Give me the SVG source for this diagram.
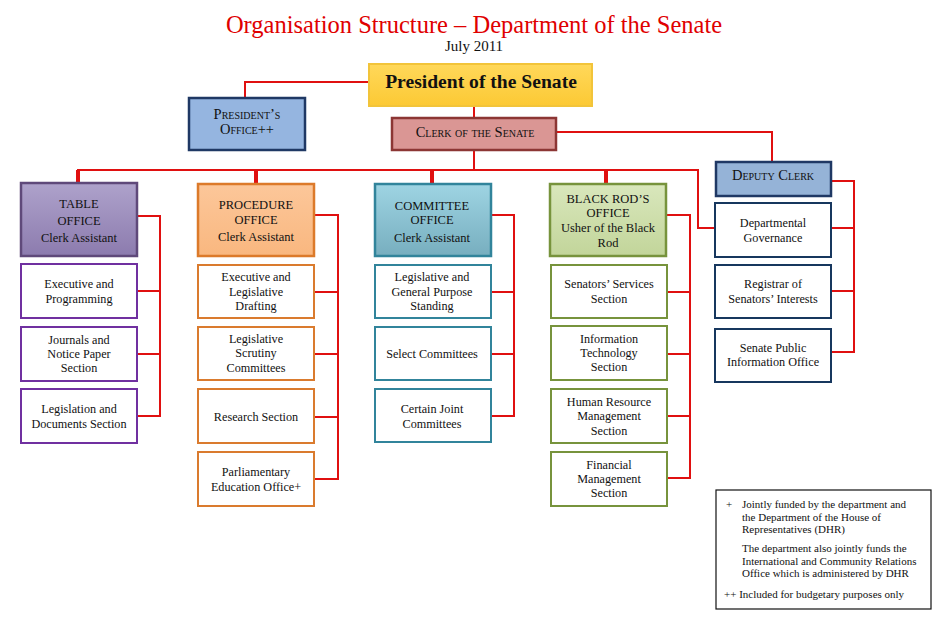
<svg xmlns="http://www.w3.org/2000/svg" width="952" height="623" viewBox="0 0 952 623">
<defs>
<linearGradient id="gPurple" x1="0" y1="0" x2="0" y2="1"><stop offset="0" stop-color="#AEA2CB"/><stop offset="1" stop-color="#8C7BAE"/></linearGradient>
<linearGradient id="gOrange" x1="0" y1="0" x2="0" y2="1"><stop offset="0" stop-color="#FCC79A"/><stop offset="1" stop-color="#F9B77F"/></linearGradient>
<linearGradient id="gTeal" x1="0" y1="0" x2="0" y2="1"><stop offset="0" stop-color="#9ED4E3"/><stop offset="1" stop-color="#77AEBF"/></linearGradient>
<linearGradient id="gGreen" x1="0" y1="0" x2="0" y2="1"><stop offset="0" stop-color="#D9E7BC"/><stop offset="1" stop-color="#C2D59A"/></linearGradient>
<linearGradient id="gGold" x1="0" y1="0" x2="0" y2="1"><stop offset="0" stop-color="#FFD85A"/><stop offset="1" stop-color="#FCC934"/></linearGradient>
</defs>
<style>
text{font-family:"Liberation Serif","Times New Roman",serif;fill:#111;text-anchor:middle}
.t{font-size:12.2px}
.h{font-size:12.5px}
.sc{font-variant:small-caps;font-size:14.5px}
.lg{font-size:11px;text-anchor:start}
.ln{fill:none;stroke:#E01010;stroke-width:2}
.thk{fill:none;stroke:#E01010;stroke-width:4}
.pu{fill:#fff;stroke:#7030A0;stroke-width:2}
.or{fill:#fff;stroke:#DA7B2E;stroke-width:2}
.te{fill:#fff;stroke:#31849B;stroke-width:2}
.gr{fill:#fff;stroke:#77933C;stroke-width:2}
.nv{fill:#fff;stroke:#17375E;stroke-width:2}
</style>
<rect width="952" height="623" fill="#fff"/>
<text x="474" y="33" style="font-size:24.5px;fill:#E00000">Organisation Structure – Department of the Senate</text>
<text x="474" y="51" style="font-size:15px">July 2011</text>

<g id="connectors">
<polyline class="ln" points="369,82 245,82 245,98"/>
<line class="ln" x1="474" y1="106" x2="474" y2="118"/>
<polyline class="ln" points="556,132 772,132 772,162"/>
<line class="ln" x1="474" y1="150" x2="474" y2="170"/>
<polyline class="ln" points="77,170 698,170 698,228 715,228"/>
<line class="thk" x1="78" y1="170" x2="78" y2="183"/>
<line class="thk" x1="256" y1="170" x2="256" y2="184"/>
<line class="thk" x1="432" y1="170" x2="432" y2="184"/>
<line class="thk" x1="606" y1="170" x2="606" y2="184"/>
<polyline class="ln" points="137,216 160,216 160,416 137,416"/>
<line class="ln" x1="137" y1="291" x2="160" y2="291"/>
<line class="ln" x1="137" y1="354" x2="160" y2="354"/>
<polyline class="ln" points="314,215 338,215 338,479 314,479"/>
<line class="ln" x1="314" y1="292" x2="338" y2="292"/>
<line class="ln" x1="314" y1="354" x2="338" y2="354"/>
<line class="ln" x1="314" y1="417" x2="338" y2="417"/>
<polyline class="ln" points="491,215 514,215 514,416 491,416"/>
<line class="ln" x1="491" y1="292" x2="514" y2="292"/>
<line class="ln" x1="491" y1="354" x2="514" y2="354"/>
<polyline class="ln" points="666,215 690,215 690,478 667,478"/>
<line class="ln" x1="667" y1="292" x2="690" y2="292"/>
<line class="ln" x1="667" y1="354" x2="690" y2="354"/>
<line class="ln" x1="667" y1="416" x2="690" y2="416"/>
<polyline class="ln" points="831,181 854,181 854,352 831,352"/>
<line class="ln" x1="831" y1="228" x2="854" y2="228"/>
<line class="ln" x1="831" y1="291" x2="854" y2="291"/>
</g>

<g id="president">
<rect x="369" y="64" width="223" height="42" fill="url(#gGold)" stroke="#F2C43A" stroke-width="2"/>
<text x="481" y="88" style="font-size:19.6px;font-weight:bold">President of the Senate</text>
</g>
<g id="presidents-office">
<rect x="189" y="98" width="116" height="52" fill="#95B5E0" stroke="#1F3864" stroke-width="2.5"/>
<text x="247" y="119" class="sc">President’s</text>
<text x="247" y="134" class="sc">Office++</text>
</g>
<g id="clerk">
<rect x="392" y="118" width="164" height="32" fill="#DA9694" stroke="#8C3634" stroke-width="2.5"/>
<text x="475" y="137" class="sc">Clerk of the Senate</text>
</g>

<g id="table-office">
<rect x="21" y="183" width="116" height="73" fill="url(#gPurple)" stroke="#5F497A" stroke-width="2.5"/>
<text x="79" y="208" class="h">TABLE</text>
<text x="79" y="225" class="h">OFFICE</text>
<text x="79" y="242" class="h">Clerk Assistant</text>
</g>
<g id="executive-programming"><rect class="pu" x="21" y="264" width="116" height="54"/>
<text x="79" y="288" class="t">Executive and</text><text x="79" y="303" class="t">Programming</text></g>
<g id="journals"><rect class="pu" x="21" y="327" width="116" height="54"/>
<text x="79" y="344" class="t">Journals and</text><text x="79" y="358" class="t">Notice Paper</text><text x="79" y="372" class="t">Section</text></g>
<g id="legislation-documents"><rect class="pu" x="21" y="389" width="116" height="54"/>
<text x="79" y="413" class="t">Legislation and</text><text x="79" y="428" class="t">Documents Section</text></g>

<g id="procedure-office">
<rect x="198" y="184" width="116" height="72" fill="url(#gOrange)" stroke="#DC7A2A" stroke-width="2.5"/>
<text x="256" y="209" class="h">PROCEDURE</text>
<text x="256" y="224" class="h">OFFICE</text>
<text x="256" y="241" class="h">Clerk Assistant</text>
</g>
<g id="exec-leg-drafting"><rect class="or" x="198" y="265" width="116" height="53"/>
<text x="256" y="281" class="t">Executive and</text><text x="256" y="296" class="t">Legislative</text><text x="256" y="310" class="t">Drafting</text></g>
<g id="leg-scrutiny"><rect class="or" x="198" y="327" width="116" height="53"/>
<text x="256" y="343" class="t">Legislative</text><text x="256" y="357" class="t">Scrutiny</text><text x="256" y="372" class="t">Committees</text></g>
<g id="research"><rect class="or" x="198" y="389" width="116" height="54"/>
<text x="256" y="421" class="t">Research Section</text></g>
<g id="parl-education"><rect class="or" x="198" y="452" width="116" height="54"/>
<text x="256" y="476" class="t">Parliamentary</text><text x="256" y="491" class="t">Education Office+</text></g>

<g id="committee-office">
<rect x="375" y="184" width="116" height="72" fill="url(#gTeal)" stroke="#31849B" stroke-width="2.5"/>
<text x="432" y="210" class="h">COMMITTEE</text>
<text x="432" y="224" class="h">OFFICE</text>
<text x="432" y="242" class="h">Clerk Assistant</text>
</g>
<g id="leg-general-purpose"><rect class="te" x="375" y="265" width="116" height="53"/>
<text x="432" y="281" class="t">Legislative and</text><text x="432" y="296" class="t">General Purpose</text><text x="432" y="310" class="t">Standing</text></g>
<g id="select-committees"><rect class="te" x="375" y="327" width="116" height="53"/>
<text x="432" y="358" class="t">Select Committees</text></g>
<g id="joint-committees"><rect class="te" x="375" y="389" width="116" height="53"/>
<text x="432" y="413" class="t">Certain Joint</text><text x="432" y="428" class="t">Committees</text></g>

<g id="black-rod-office">
<rect x="550" y="184" width="116" height="72" fill="url(#gGreen)" stroke="#77933C" stroke-width="2.5"/>
<text x="608" y="203" class="h">BLACK ROD’S</text>
<text x="608" y="217" class="h">OFFICE</text>
<text x="608" y="232" class="h">Usher of the Black</text>
<text x="608" y="247" class="h">Rod</text>
</g>
<g id="senators-services"><rect class="gr" x="551" y="265" width="116" height="53"/>
<text x="609" y="288" class="t">Senators’ Services</text><text x="609" y="303" class="t">Section</text></g>
<g id="info-tech"><rect class="gr" x="551" y="326" width="116" height="54"/>
<text x="609" y="343" class="t">Information</text><text x="609" y="357" class="t">Technology</text><text x="609" y="371" class="t">Section</text></g>
<g id="hr-management"><rect class="gr" x="551" y="389" width="116" height="54"/>
<text x="609" y="406" class="t">Human Resource</text><text x="609" y="420" class="t">Management</text><text x="609" y="435" class="t">Section</text></g>
<g id="financial-management"><rect class="gr" x="551" y="452" width="116" height="54"/>
<text x="609" y="469" class="t">Financial</text><text x="609" y="483" class="t">Management</text><text x="609" y="497" class="t">Section</text></g>

<g id="deputy-clerk">
<rect x="716" y="162" width="115" height="34" fill="#95B3D7" stroke="#1F3864" stroke-width="2.5"/>
<text x="773" y="180" class="sc">Deputy Clerk</text>
</g>
<g id="dept-governance"><rect class="nv" x="715" y="203" width="116" height="54"/>
<text x="773" y="227" class="t">Departmental</text><text x="773" y="242" class="t">Governance</text></g>
<g id="registrar"><rect class="nv" x="715" y="265" width="116" height="53"/>
<text x="773" y="288" class="t">Registrar of</text><text x="773" y="303" class="t">Senators’ Interests</text></g>
<g id="public-info"><rect class="nv" x="715" y="329" width="116" height="53"/>
<text x="773" y="352" class="t">Senate Public</text><text x="773" y="366" class="t">Information Office</text></g>

<g id="legend">
<rect x="716" y="490" width="215" height="119" fill="#fff" stroke="#111" stroke-width="1.2"/>
<text x="726" y="508" class="lg">+</text>
<text x="742" y="508" class="lg">Jointly funded by the department and</text>
<text x="742" y="521" class="lg">the Department of the House of</text>
<text x="742" y="533" class="lg">Representatives (DHR)</text>
<text x="742" y="552" class="lg">The department also jointly funds the</text>
<text x="742" y="565" class="lg">International and Community Relations</text>
<text x="742" y="577" class="lg">Office which is administered by DHR</text>
<text x="724" y="598" class="lg">++ Included for budgetary purposes only</text>
</g>
</svg>
